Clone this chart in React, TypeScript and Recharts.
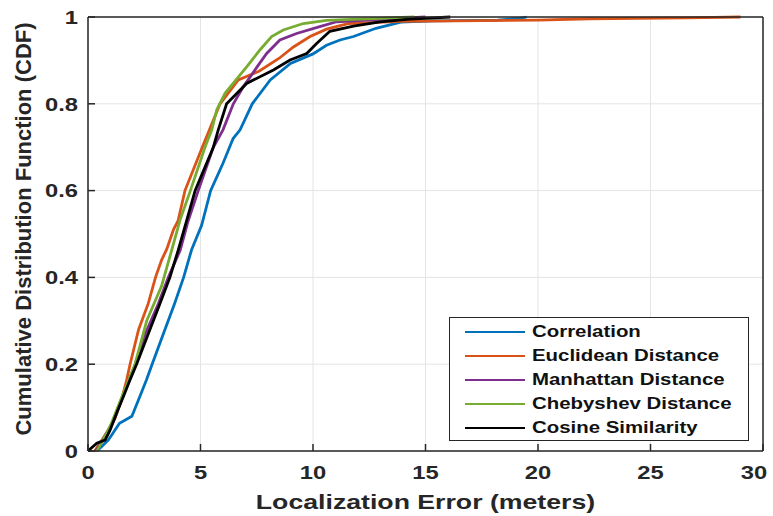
import { LineChart, Line, XAxis, YAxis, CartesianGrid, Legend } from 'recharts';

// [error (m), cdf] pairs
const correlation = [
    [0.4, 0], [0.9, 0.025], [1.4, 0.064], [1.95, 0.08], [2.3, 0.125], [2.6, 0.164], [2.85, 0.2],
    [3.35, 0.27], [3.85, 0.34], [4.25, 0.4], [4.6, 0.463], [5.05, 0.52], [5.45, 0.6], [6.0, 0.663],
    [6.45, 0.72], [6.76, 0.74], [7.3, 0.8], [8.1, 0.855], [9.0, 0.893], [10.0, 0.915], [10.6, 0.935],
    [11.2, 0.947], [11.8, 0.955], [12.8, 0.974], [13.9, 0.988], [15.3, 0.991], [18.2, 0.993],
    [19.2, 0.997], [19.5, 1],
];
const euclidean = [
    [0.3, 0], [0.9, 0.048], [1.2, 0.075], [1.5, 0.12], [1.72, 0.164], [1.87, 0.2], [2.25, 0.28],
    [2.68, 0.34], [3.0, 0.4], [3.27, 0.44], [3.5, 0.465], [3.8, 0.51], [4.0, 0.53], [4.31, 0.6],
    [5.08, 0.7], [5.87, 0.8], [6.68, 0.855], [7.6, 0.875], [8.5, 0.905], [9.13, 0.931], [9.87, 0.955],
    [10.6, 0.972], [11.6, 0.985], [13.9, 0.99], [20, 0.993], [22.3, 0.996], [26.6, 0.998], [29, 1],
];
const manhattan = [
    [0.35, 0], [0.6, 0.02], [1.13, 0.07], [1.72, 0.15], [2.1, 0.2], [2.55, 0.27], [3.13, 0.34],
    [3.57, 0.4], [4.1, 0.463], [4.45, 0.53], [4.9, 0.6], [5.57, 0.7], [6.0, 0.74], [6.46, 0.8],
    [6.9, 0.839], [7.42, 0.878], [7.94, 0.916], [8.53, 0.947], [9.27, 0.962], [10.3, 0.978],
    [11.05, 0.989], [12.4, 0.993], [15, 1],
];
const chebyshev = [
    [0.4, 0], [0.98, 0.056], [1.57, 0.133], [2.09, 0.2], [2.61, 0.3], [3.27, 0.38], [3.72, 0.463],
    [4.09, 0.532], [4.55, 0.6], [5.2, 0.7], [5.5, 0.74], [5.72, 0.786], [6.09, 0.824], [7.05, 0.885],
    [7.64, 0.924], [8.16, 0.955], [8.68, 0.97], [9.57, 0.985], [10.6, 0.992], [14.5, 1],
];
const cosine = [
    [0, 0], [0.39, 0.018], [0.76, 0.025], [0.98, 0.048], [1.27, 0.087], [1.57, 0.125], [1.87, 0.164],
    [2.16, 0.2], [2.68, 0.27], [3.2, 0.34], [3.64, 0.4], [4.01, 0.463], [4.39, 0.532], [4.76, 0.6],
    [5.57, 0.7], [5.79, 0.74], [6.16, 0.8], [7.05, 0.847], [8.24, 0.878], [8.98, 0.901], [9.72, 0.916],
    [10.16, 0.939], [10.75, 0.967], [11.8, 0.979], [12.98, 0.989], [14.3, 0.995], [16.1, 1],
];

const SERIES_NAMES = ['Correlation', 'Euclidean Distance', 'Manhattan Distance', 'Chebyshev Distance', 'Cosine Similarity'];
const SERIES_VALUES = [correlation, euclidean, manhattan, chebyshev, cosine];
const COLORS = ['#0072BD', '#D95319', '#7E2F8E', '#77AC30', '#000000'];

const X_TICKS = [0, 5, 10, 15, 20, 25, 30];
const Y_TICKS = [0, 0.2, 0.4, 0.6, 0.8, 1];
const X_TITLE = 'Localization Error (meters)';
const Y_TITLE = 'Cumulative Distribution Function (CDF)';

const FONT = '"Liberation Sans", Arial, Helvetica, sans-serif';
const INK = '#262626';
const STRETCH = 1.25; // the figure text is rendered wide
const TICK_LEN = 7;

const series = SERIES_NAMES.map((name, i) => ({
    name,
    color: COLORS[i],
    data: SERIES_VALUES[i].map(([x, y]) => ({ x, y })),
}));

// tick marks point inward, so each tick draws its own mark from the axis position
function XTick(props: any) {
    const { x, y, payload, index, visibleTicksCount } = props;
    const shift = index === visibleTicksCount - 1 ? -9 : 0;
    return (
        <g transform={`translate(${x},${y})`}>
            <line x1={0} x2={0} y1={0} y2={-TICK_LEN} stroke={INK} strokeWidth={1.5} />
            <text transform={`translate(${shift},0) scale(${STRETCH},1)`} textAnchor="middle" y={28}
                fill={INK} fontFamily={FONT} fontWeight="bold" fontSize={19}>
                {payload.value}
            </text>
        </g>
    );
}

function TopTick(props: any) {
    const { x, y } = props;
    return <line x1={x} x2={x} y1={y} y2={y + TICK_LEN} stroke={INK} strokeWidth={1.5} />;
}

function YTick(props: any) {
    const { x, y, payload } = props;
    return (
        <g transform={`translate(${x},${y})`}>
            <line x1={0} x2={TICK_LEN} y1={0} y2={0} stroke={INK} strokeWidth={1.5} />
            <text transform={`translate(-10,0) scale(${STRETCH},1)`} textAnchor="end" dy="0.36em" fill={INK}
                fontFamily={FONT} fontWeight="bold" fontSize={19}>
                {payload.value}
            </text>
        </g>
    );
}

function RightTick(props: any) {
    const { x, y } = props;
    return <line x1={x} x2={x - TICK_LEN} y1={y} y2={y} stroke={INK} strokeWidth={1.5} />;
}

function XTitle(props: any) {
    const { x, width } = props.viewBox;
    return (
        <g transform={`translate(${x + width / 2},509)`}>
            <text transform="scale(1.27,1)" textAnchor="middle" fill={INK}
                fontFamily={FONT} fontWeight="bold" fontSize={21}>
                {X_TITLE}
            </text>
        </g>
    );
}

function YTitle(props: any) {
    const { y, height } = props.viewBox;
    const cy = y + height / 2 - 5;
    return (
        <text x={23} y={cy} transform={`rotate(-90, 23, ${cy})`}
            textAnchor="middle" dominantBaseline="central" fill={INK}
            fontFamily={FONT} fontWeight="bold" fontSize={22}>
            {Y_TITLE}
        </text>
    );
}

function LegendBox() {
    return (
        <div style={{
            width: 300, height: 124, boxSizing: 'border-box', border: `1px solid ${INK}`,
            background: '#fff', paddingTop: 2, fontFamily: FONT,
        }}>
            {series.map((s) => (
                <div key={s.name} style={{ height: 24, display: 'flex', alignItems: 'center' }}>
                    <span style={{ marginLeft: 15, width: 60, height: 2.5, background: s.color, display: 'inline-block' }} />
                    <span style={{
                        marginLeft: 7, fontSize: 17, fontWeight: 'bold', color: '#111',
                        display: 'inline-block', whiteSpace: 'nowrap',
                        transform: 'scale(1.2,1)', transformOrigin: 'left center',
                    }}>
                        {s.name}
                    </span>
                </div>
            ))}
        </div>
    );
}

export default function App() {
    return (
        <div style={{ position: 'absolute', left: 0, top: 0, width: 773, height: 516, background: '#fff' }}>
            <LineChart width={773} height={516} margin={{ top: 16, right: 9, bottom: 0, left: 0 }}>
                <CartesianGrid stroke="#e4e4e4" strokeWidth={1} />
                <XAxis dataKey="x" type="number" domain={[0, 30]} ticks={X_TICKS} height={65}
                    stroke={INK} strokeWidth={1.5} tickSize={0} tickMargin={0} tickLine={false}
                    tick={<XTick />} label={<XTitle />} />
                <XAxis xAxisId="top" orientation="top" dataKey="x" type="number" domain={[0, 30]}
                    ticks={X_TICKS} height={1} stroke={INK} strokeWidth={1.5} tickSize={0} tickMargin={0}
                    tickLine={false} tick={<TopTick />} />
                <YAxis type="number" domain={[0, 1]} ticks={Y_TICKS} width={88}
                    stroke={INK} strokeWidth={1.5} tickSize={0} tickMargin={0} tickLine={false}
                    tick={<YTick />} label={<YTitle />} />
                <YAxis yAxisId="right" orientation="right" type="number" domain={[0, 1]} ticks={Y_TICKS}
                    width={1} stroke={INK} strokeWidth={1.5} tickSize={0} tickMargin={0}
                    tickLine={false} tick={<RightTick />} />
                <Legend layout="horizontal" verticalAlign="middle" align="center"
                    wrapperStyle={{ left: 449, top: 317, width: 300 }}
                    content={() => <LegendBox />} />
                {series.map((s) => (
                    <Line key={s.name} name={s.name} data={s.data} dataKey="y" type="linear"
                        stroke={s.color} strokeWidth={2.8} dot={false} activeDot={false}
                        isAnimationActive={false} legendType="line" />
                ))}
            </LineChart>
        </div>
    );
}
